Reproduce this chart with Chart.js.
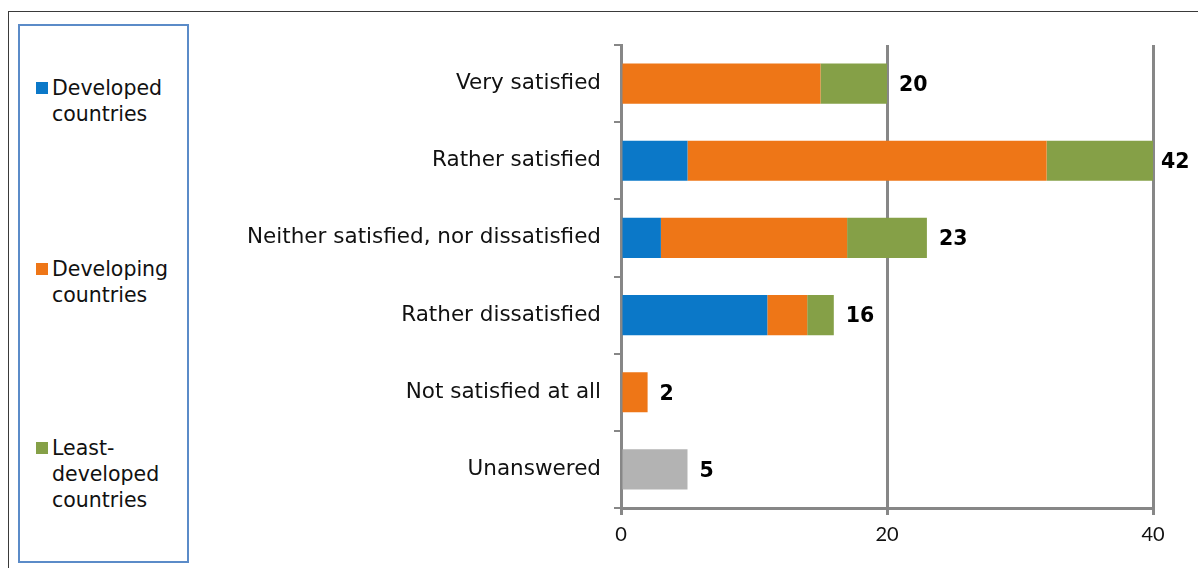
<!DOCTYPE html>
<html>
<head>
<meta charset="utf-8">
<script src="https://cdn.jsdelivr.net/npm/chart.js@4/dist/chart.umd.min.js"></script>
<style>
  html, body { margin: 0; padding: 0; background: #fff; overflow: hidden; }
  #wrap { position: relative; width: 1198px; height: 568px; overflow: hidden; }
  #frame { position: absolute; left: 8px; top: 11px; width: 1230px; height: 620px;
           border: 1px solid #3a3a3a; box-sizing: border-box; }
  #legend { position: absolute; left: 18px; top: 24px; width: 171px; height: 539px;
            border: 2px solid #5B8BC8; box-sizing: border-box; }
  .item { position: absolute; left: 16px; padding-left: 16px;
          font: 20.5px "DejaVu Sans", Verdana, sans-serif; line-height: 26px; color: #111; }
  .sw { position: absolute; left: 0; top: 7px; width: 12px; height: 12px; }
  canvas { position: absolute; left: 0; top: 0; }
</style>
</head>
<body>
<div id="wrap">
  <div id="frame"></div>
  <div id="legend"></div>
  <canvas id="chart" width="1198" height="568"></canvas>
</div>
<script>
// Satisfaction responses by country group
const categories = [
  "Very satisfied",
  "Rather satisfied",
  "Neither satisfied, nor dissatisfied",
  "Rather dissatisfied",
  "Not satisfied at all",
  "Unanswered"
];
const developed      = [0, 5, 3, 11, 0, 0];
const developing     = [15, 27, 14, 3, 2, 0];
const leastDeveloped = [5, 10, 6, 2, 0, 0];
const unanswered     = [0, 0, 0, 0, 0, 5];
const xTicks = [0, 20, 40];

const legendItems = [
  { lines: ["Developed", "countries"], color: "#0B78C8", top: 49 },
  { lines: ["Developing", "countries"], color: "#EE7617", top: 230 },
  { lines: ["Least-", "developed", "countries"], color: "#85A047", top: 409 }
];

// HTML legend box
const legendEl = document.getElementById("legend");
legendItems.forEach(it => {
  const d = document.createElement("div");
  d.className = "item";
  d.style.top = it.top + "px";
  d.innerHTML = '<span class="sw" style="background:' + it.color + '"></span>' + it.lines.join("<br>");
  legendEl.appendChild(d);
});

const gridGray = "#878787";

// Total value written after each stacked bar
const totalsPlugin = {
  id: "totals",
  afterDatasetsDraw(chart) {
    const { ctx, chartArea } = chart;
    const xs = chart.scales.x, ys = chart.scales.y;
    ctx.save();
    ctx.font = "bold 20.5px 'DejaVu Sans', Verdana, sans-serif";
    ctx.fillStyle = "#000";
    ctx.textAlign = "left";
    ctx.textBaseline = "middle";
    categories.forEach((c, i) => {
      const total = developed[i] + developing[i] + leastDeveloped[i] + unanswered[i];
      const x = Math.min(xs.getPixelForValue(total), chartArea.right);
      const y = ys.getPixelForValue(i);
      ctx.fillText(String(total), x + (total > 40 ? 8 : 12), y + 2);
    });
    ctx.restore();
  }
};

new Chart(document.getElementById("chart"), {
  type: "bar",
  data: {
    labels: categories,
    datasets: [
      { label: "Developed countries", data: developed, backgroundColor: "#0B78C8" },
      { label: "Developing countries", data: developing, backgroundColor: "#EE7617" },
      { label: "Least-developed countries", data: leastDeveloped, backgroundColor: "#85A047" },
      { label: "Unanswered", data: unanswered, backgroundColor: "#B3B3B3" }
    ]
  },
  options: {
    indexAxis: "y",
    responsive: false,
    animation: false,
    layout: { padding: { left: 221, right: 45, top: 45, bottom: 20 } },
    datasets: { bar: { categoryPercentage: 1, barPercentage: 0.52, borderWidth: 0 } },
    plugins: { legend: { display: false }, tooltip: { enabled: false } },
    scales: {
      x: {
        stacked: true,
        min: 0,
        max: 40,
        afterBuildTicks: s => { s.ticks = xTicks.map(v => ({ value: v })); },
        afterFit: s => { s.height = 40; },
        grid: { color: gridGray, lineWidth: 3, tickLength: 7, drawTicks: true },
        border: { color: gridGray, width: 3 },
        ticks: { padding: 8, color: "#111", font: { family: "Lato, 'Liberation Sans', sans-serif", size: 20 } }
      },
      y: {
        stacked: true,
        afterFit: s => { s.width = 400; },
        grid: { offset: true, drawOnChartArea: false, drawTicks: true, tickLength: 7,
                color: gridGray, lineWidth: 2 },
        border: { color: gridGray, width: 3 },
        ticks: { padding: 13, color: "#111", font: { family: "'DejaVu Sans', Verdana, sans-serif", size: 21.5 } }
      }
    }
  },
  plugins: [totalsPlugin]
});
</script>
</body>
</html>
